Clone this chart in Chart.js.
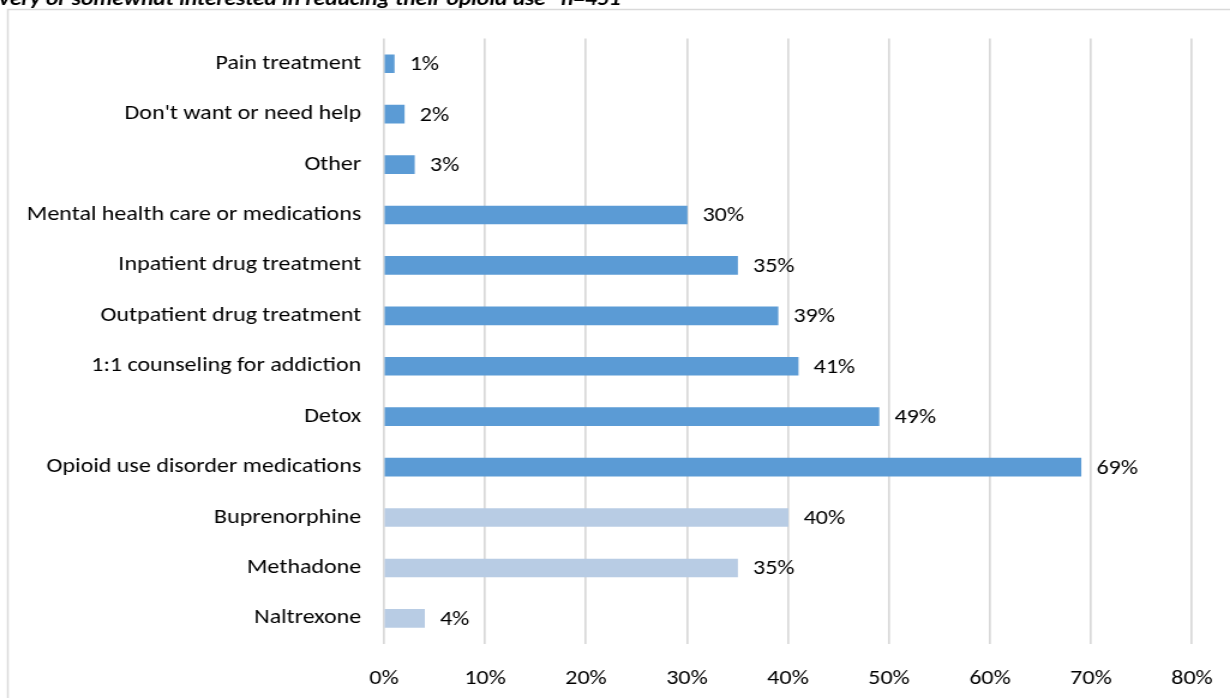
<!DOCTYPE html>
<html>
<head>
<meta charset="utf-8">
<script src="https://cdn.jsdelivr.net/npm/chart.js@4/dist/chart.umd.min.js"></script>
<style>
  html, body { margin: 0; padding: 0; background: #ffffff; overflow: hidden; }
  #wrap { position: relative; width: 1230px; height: 698px; overflow: hidden; }
  /* the chart is drawn narrower and widened to the full page width */
  #stretch { position: absolute; left: 0; top: 0; width: 1025px; height: 698px;
             transform: scaleX(1.2); transform-origin: 0 0; }
  canvas { display: block; }
</style>
</head>
<body>
<div id="wrap"><div id="stretch"><canvas id="chart" width="1025" height="698"></canvas></div></div>
<script>
// Help wanted among people interested in reducing opioid use (percent of respondents)
const categories = [
  "Pain treatment",
  "Don't want or need help",
  "Other",
  "Mental health care or medications",
  "Inpatient drug treatment",
  "Outpatient drug treatment",
  "1:1 counseling for addiction",
  "Detox",
  "Opioid use disorder medications",
  "Buprenorphine",
  "Methadone",
  "Naltrexone"
];
const percentValues = [1, 2, 3, 30, 35, 39, 41, 49, 69, 40, 35, 4];
// Specific medications are shown in a lighter shade under the medications row
const isMedicationType = [false, false, false, false, false, false, false, false, false, true, true, true];
const xTickValues = [0, 10, 20, 30, 40, 50, 60, 70, 80];
const subtitleText = "very or somewhat interested in reducing their opioid use\u201D n=451";

const MAIN_BLUE = "#5b9bd5";
const LIGHT_BLUE = "#b8cce4";
const GRID_GREY = "#d9d9d9";
const FONT_FAMILY = "Carlito, 'Liberation Sans', Arial, sans-serif";

// Frame around the chart and the subtitle line above it
const framePlugin = {
  id: "frame",
  beforeDraw(chart) {
    const ctx = chart.ctx;
    ctx.save();
    ctx.fillStyle = "#ffffff";
    ctx.fillRect(0, 0, chart.width, chart.height);
    ctx.strokeStyle = GRID_GREY;
    ctx.lineWidth = 1.5;
    ctx.strokeRect(6.5, 9.5, chart.width + 20, chart.height + 20);
    ctx.fillStyle = "#000000";
    ctx.font = "italic bold 19.5px " + FONT_FAMILY;
    ctx.textAlign = "left";
    ctx.textBaseline = "alphabetic";
    ctx.fillText(subtitleText, -1, 5);
    ctx.restore();
  }
};

// Percent labels at the end of each bar
const valueLabelPlugin = {
  id: "valueLabels",
  afterDatasetsDraw(chart) {
    const ctx = chart.ctx;
    const meta = chart.getDatasetMeta(0);
    ctx.save();
    ctx.fillStyle = "#000000";
    ctx.font = "20px " + FONT_FAMILY;
    ctx.textAlign = "left";
    ctx.textBaseline = "middle";
    meta.data.forEach((bar, i) => {
      ctx.fillText(percentValues[i] + "%", bar.x + 13, bar.y + 1.5);
    });
    ctx.restore();
  }
};

new Chart(document.getElementById("chart"), {
  type: "bar",
  data: {
    labels: categories,
    datasets: [{
      data: percentValues,
      backgroundColor: isMedicationType.map(m => m ? LIGHT_BLUE : MAIN_BLUE),
      borderWidth: 0,
      barThickness: 18
    }]
  },
  options: {
    indexAxis: "y",
    responsive: false,
    devicePixelRatio: 1,
    animation: false,
    events: [],
    layout: { padding: { top: 38.5, right: 31.7, bottom: 0, left: 0 } },
    plugins: {
      legend: { display: false },
      tooltip: { enabled: false }
    },
    scales: {
      x: {
        min: 0,
        max: 80,
        afterBuildTicks(scale) {
          scale.ticks = xTickValues.map(v => ({ value: v }));
        },
        afterFit(scale) {
          scale.height = 54.4;
          // the outer tick labels fit inside the layout padding
          scale.paddingLeft = 0;
          scale.paddingRight = 0;
        },
        border: { display: false },
        grid: { color: GRID_GREY, lineWidth: 1.7, drawTicks: false },
        ticks: {
          padding: 23,
          color: "#000000",
          font: { family: FONT_FAMILY, size: 20 },
          callback: v => v + "%"
        }
      },
      y: {
        afterFit(scale) { scale.width = 320; },
        border: { display: false },
        grid: { display: false, drawTicks: false },
        ticks: {
          padding: 19,
          color: "#000000",
          font: { family: FONT_FAMILY, size: 20 }
        }
      }
    }
  },
  plugins: [framePlugin, valueLabelPlugin]
});
</script>
</body>
</html>
